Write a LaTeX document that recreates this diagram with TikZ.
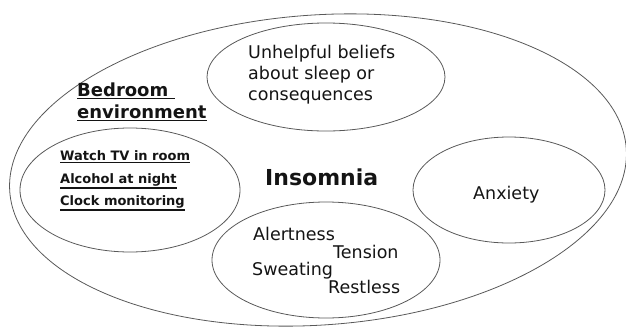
\documentclass[tikz,border=0pt]{standalone}
\usepackage{fontspec}
\setmainfont{DejaVu Sans}
\begin{document}
\begin{tikzpicture}[x=1pt,y=-1pt,
  ring/.style={draw=black!65, line width=0.8pt},
  plain/.style={anchor=base west, inner sep=0pt, text=black!92, font=\fontsize{17.5}{21}\selectfont},
  factor/.style={anchor=base west, inner sep=0pt, text=black!92, font=\bfseries\fontsize{13}{15}\selectfont},
  heading/.style={anchor=base west, inner sep=0pt, text=black!92, font=\bfseries\fontsize{18}{20}\selectfont}]
\newcommand\ulbox[1]{\leavevmode\vtop{\hbox{#1}\kern1.6pt\hrule height 1.3pt}}
\useasboundingbox (0,0) rectangle (626,327);
\begin{scope}
\clip (0,0) rectangle (626,327);
% outer boundary
\draw[ring, rotate around={4:(318,170)}] (318,170) ellipse [x radius=309, y radius=155];
\end{scope}
% inner groups
\draw[ring] (326,77) ellipse [x radius=119, y radius=54];
\draw[ring] (130,190) ellipse [x radius=110, y radius=62];
\draw[ring] (326,260) ellipse [x radius=114, y radius=58];
\draw[ring] (509,190) ellipse [x radius=96, y radius=53];
% texts
\node[plain] (b1) at (248,58) {Unhelpful beliefs};
\node[plain] (b2) at (248,79) {about sleep or};
\node[plain] (b3) at (248,100) {consequences};
\node[heading] (h1) at (77,96) {\ulbox{Bedroom }};
\node[heading] (h2) at (77,118) {\ulbox{environment}};
\node[factor] (f1) at (60,160) {\ulbox{Watch TV in room}};
\node[factor] (f2) at (60,183) {\ulbox{Alcohol at night}};
\node[factor] (f3) at (60,205) {\ulbox{Clock monitoring}};
\node[anchor=base west, inner sep=0pt, text=black!92, font=\bfseries\fontsize{22}{24}\selectfont] (ins) at (265,185) {Insomnia};
\node[plain] (anx) at (473,199) {Anxiety};
\node[plain] (s1) at (253,240) {Alertness};
\node[plain] (s2) at (333,258) {Tension};
\node[plain] (s3) at (252,275) {Sweating};
\node[plain] (s4) at (328,293) {Restless};
\end{tikzpicture}
\end{document}
